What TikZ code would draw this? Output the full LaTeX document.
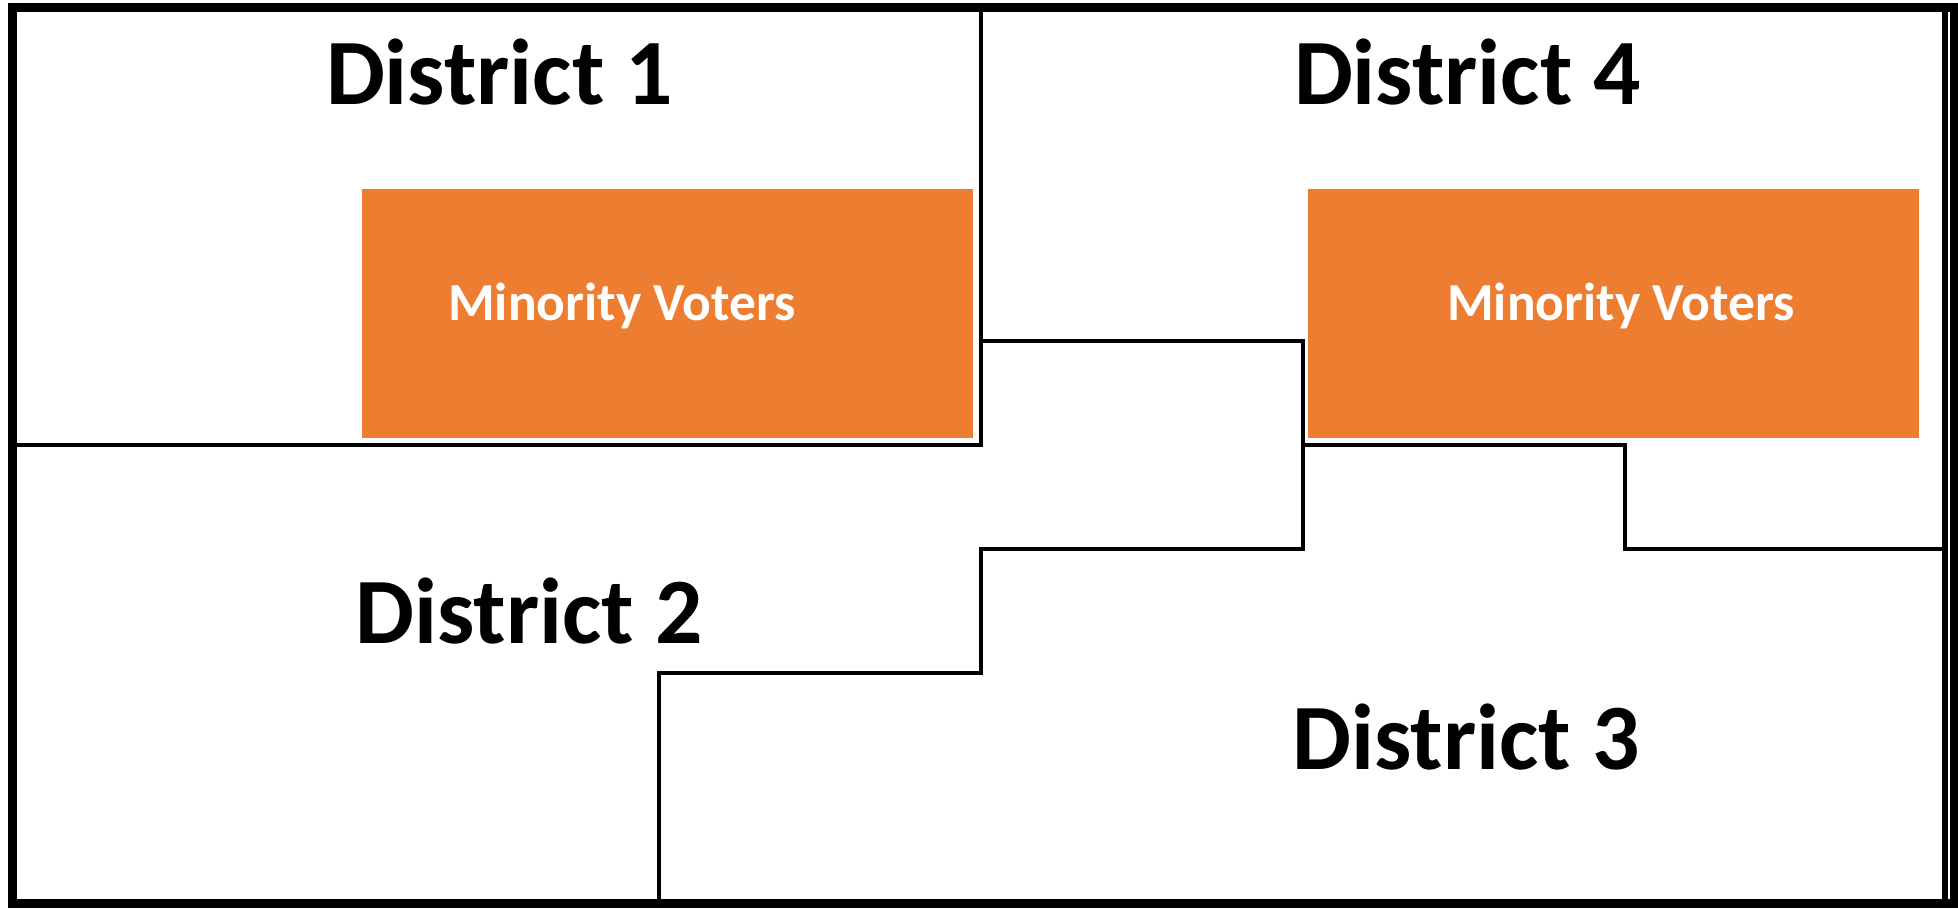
\documentclass[tikz,border=0pt]{standalone}
\usepackage{fontspec}
\setmainfont{Carlito}
\usepackage{tikz}
\usetikzlibrary{positioning}
\definecolor{voterorange}{RGB}{237,125,49}
\tikzset{
    frame/.style={
    draw=black,line width=2.3pt
    },
    boundary/.style={
    draw=black,line width=0.95pt
    },
    minority/.style={
    fill=voterorange
    },
    district/.style={
    anchor=base,inner sep=0pt,font=\bfseries\fontsize{26.6}{30}\selectfont
    },
    mvlabel/.style={
    anchor=base,inner sep=0pt,text=white,font=\bfseries\fontsize{15.2}{19}\selectfont
    },
}
\begin{document}
\begin{tikzpicture}[x=0.01cm, y=-0.01cm]
   \useasboundingbox (0,0) rectangle (1958,909);

   %outer frame
   \draw[frame] (12.5,7.5) rectangle (1954,903.5);
   \draw[draw=black,line width=1.7pt] (1945,7.5) -- (1945,903.5);

   %minority voters
   \fill[minority] (362,189) rectangle (973,438);
   \fill[minority] (1308,189) rectangle (1919,438);
   \node[mvlabel] (mv1) at (622,320) {Minority Voters};
   \node[mvlabel] (mv4) at (1621,320) {Minority Voters};

   %district boundaries
   \draw[boundary] (981,7.5) -- (981,445) -- (12.5,445);
   \draw[boundary] (981,341) -- (1303,341) -- (1303,549) -- (981,549)
                   -- (981,673) -- (659,673) -- (659,903.5);
   \draw[boundary] (1303,445) -- (1625,445) -- (1625,549) -- (1945,549);

   %district names
   \node[district] (d1) at (499.5,104) {District 1};
   \node[district] (d4) at (1467.5,104) {District 4};
   \node[district] (d2) at (529,643.5) {District 2};
   \node[district] (d3) at (1466,769) {District 3};
\end{tikzpicture}
\end{document}
